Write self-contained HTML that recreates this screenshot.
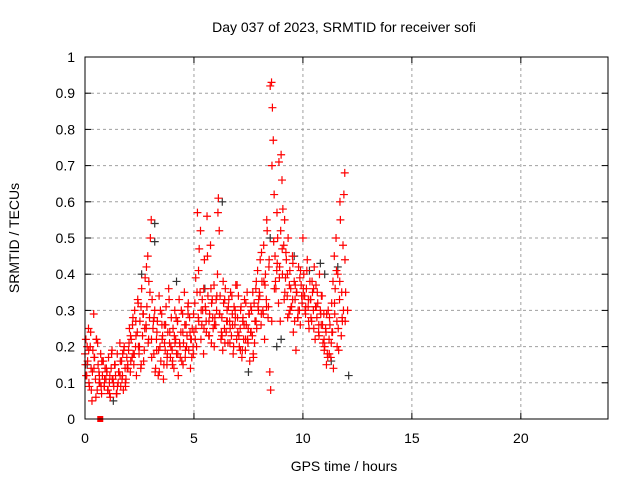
<!DOCTYPE html>
<html><head><meta charset="utf-8"><style>
body{margin:0;background:#fff;}
svg{display:block;font-family:"Liberation Sans",sans-serif;}
</style></head><body>
<svg id="chart" width="640" height="480" viewBox="0 0 640 480">
<rect width="640" height="480" fill="#fff"/>
<text x="344" y="32" font-size="14" text-anchor="middle">Day 037 of 2023, SRMTID for receiver sofi</text>
<text transform="translate(19,238) rotate(-90)" font-size="14" text-anchor="middle">SRMTID / TECUs</text>
<text x="344" y="471" font-size="14" text-anchor="middle">GPS time / hours</text>
<g id="grid"></g>
<g id="ticks"></g>
<g id="black"></g>
<g id="red"></g>
<rect x="85" y="57" width="523" height="362" fill="none" stroke="#000" stroke-width="1"/>
</svg>
<script>
const xTicks=[0,5,10,15,20];
const yTicks=[0,0.1,0.2,0.3,0.4,0.5,0.6,0.7,0.8,0.9,1];
const yTickLabels=["0","0.1","0.2","0.3","0.4","0.5","0.6","0.7","0.8","0.9","1"];
const redStart=0.0, redStep=0.04;
const redValues=[0.18,0.22,0.12,0.16,0.25,0.09,0.20,0.14,0.05,0.19,0.29,0.17,0.11,0.22,0.08,0.15,0.13,0.10,0.18,0.07,0.12,0.16,0.09,0.14,0.11,
0.13,0.08,0.17,0.10,0.06,0.14,0.19,0.11,0.09,0.15,0.12,0.07,0.18,0.10,0.13,0.21,0.09,0.16,0.12,0.08,0.20,0.14,0.11,0.17,0.15,
0.19,0.25,0.13,0.22,0.17,0.28,0.15,0.30,0.20,0.12,0.24,0.32,0.18,0.27,0.14,0.36,0.23,0.29,0.19,0.39,0.26,0.31,0.45,0.22,0.28,
0.50,0.55,0.33,0.25,0.18,0.30,0.14,0.22,0.27,0.12,0.34,0.20,0.16,0.29,0.23,0.11,0.26,0.19,0.31,0.15,0.24,0.36,0.21,0.17,0.28,
0.19,0.25,0.14,0.30,0.22,0.18,0.27,0.12,0.33,0.20,0.24,0.16,0.29,0.21,0.35,0.17,0.26,0.23,0.31,0.19,0.28,0.14,0.22,0.25,0.20,
0.24,0.32,0.39,0.20,0.57,0.28,0.47,0.35,0.22,0.26,0.30,0.18,0.44,0.31,0.27,0.56,0.34,0.23,0.29,0.48,0.21,0.33,0.25,0.37,0.28,
0.26,0.30,0.40,0.61,0.52,0.34,0.22,0.28,0.19,0.32,0.25,0.36,0.24,0.30,0.21,0.33,0.27,0.35,0.23,0.29,0.18,0.31,0.26,0.37,0.22,
0.28,0.34,0.20,0.25,0.31,0.17,0.27,0.22,0.33,0.19,0.26,0.35,0.21,0.29,0.16,0.24,0.30,0.23,0.18,0.32,0.27,0.36,0.25,0.41,0.30,
0.35,0.44,0.26,0.38,0.30,0.48,0.22,0.40,0.33,0.52,0.28,0.42,0.13,0.08,0.93,0.86,0.77,0.62,0.45,0.36,0.41,0.50,0.32,0.39,0.27,
0.73,0.66,0.58,0.48,0.55,0.39,0.44,0.34,0.50,0.29,0.41,0.36,0.31,0.45,0.24,0.38,0.33,0.19,0.35,0.28,0.42,0.30,0.26,0.37,0.32,
0.50,0.40,0.34,0.29,0.36,0.44,0.31,0.25,0.38,0.33,0.27,0.35,0.30,0.42,0.22,0.37,0.28,0.32,0.24,0.40,0.30,0.26,0.34,0.21,0.29,
0.20,0.25,0.15,0.18,0.30,0.22,0.26,0.17,0.32,0.24,0.14,0.45,0.36,0.50,0.27,0.40,0.19,0.33,0.55,0.23,0.28,0.48,0.62,0.68,0.35];
const red2Start=0.02, red2Step=0.08;
const red2Values=[0.15,0.20,0.10,0.24,0.13,0.17,0.06,0.21,0.12,0.09,0.16,0.11,0.14,0.08,0.12,0.18,0.10,0.15,0.07,0.13,0.16,0.11,0.19,0.09,0.14,
0.21,0.16,0.26,0.18,0.23,0.33,0.20,0.15,0.29,0.25,0.42,0.21,0.35,0.17,0.27,0.13,0.24,0.19,0.30,0.22,0.15,0.26,0.18,0.33,0.20,
0.16,0.23,0.28,0.18,0.21,0.30,0.15,0.26,0.20,0.32,0.24,0.17,0.29,0.22,0.35,0.27,0.52,0.33,0.25,0.30,0.45,0.23,0.36,0.28,0.26,
0.33,0.57,0.29,0.24,0.38,0.21,0.27,0.31,0.25,0.34,0.20,0.28,0.37,0.23,0.30,0.19,0.26,0.32,0.22,0.29,0.24,0.35,0.21,0.38,0.31,
0.34,0.46,0.29,0.37,0.55,0.31,0.92,0.70,0.49,0.38,0.43,0.71,0.52,0.40,0.33,0.46,0.28,0.37,0.31,0.43,0.27,0.35,0.30,0.39,0.34,
0.36,0.30,0.41,0.27,0.33,0.38,0.25,0.31,0.35,0.23,0.29,0.26,0.19,0.24,0.17,0.28,0.21,0.38,0.29,0.41,0.25,0.60,0.35,0.30,0.27];
const red3Start=0.05, red3Step=0.12;
const red3Values=[0.12,0.19,0.08,0.14,0.22,0.10,0.16,0.09,0.13,0.07,0.11,0.15,0.09,0.12,0.18,0.10,0.14,
0.23,0.18,0.27,0.20,0.31,0.16,0.25,0.38,0.22,0.28,0.19,0.13,0.26,0.21,0.17,0.24,0.15,
0.21,0.27,0.17,0.24,0.19,0.29,0.22,0.18,0.25,0.41,0.30,0.36,0.24,0.27,0.32,0.20,0.34,
0.29,0.23,0.33,0.27,0.21,0.26,0.30,0.24,0.19,0.28,0.22,0.25,0.31,0.17,0.27,0.33,0.29,
0.38,0.31,0.44,0.27,0.36,0.57,0.42,0.47,0.35,0.40,0.30,0.33,0.37,0.28,0.41,0.34,0.31,
0.33,0.28,0.36,0.31,0.26,0.34,0.22,0.29,0.18,0.24,0.32,0.20,0.38,0.27,0.44,0.30];
const blackTimes=[3.2,3.2,6.3,8.5,10.8,11.0,12.1,11.6,1.3,8.8,9.0,4.2,7.5,0.1,2.6,5.5,9.6,10.3,11.3];
const blackValues=[0.54,0.49,0.60,0.50,0.43,0.40,0.12,0.42,0.05,0.20,0.22,0.38,0.13,0.15,0.40,0.36,0.45,0.41,0.16];
const markerTime=[0.7], markerValue=[0];

const NS="http://www.w3.org/2000/svg";
const X0=85,X1=608,Y0=419,Y1=57;
const xs=t=>X0+t*(X1-X0)/24;
const ys=v=>Y0-v*(Y0-Y1);
function mk(tag,attrs,parent){const e=document.createElementNS(NS,tag);for(const k in attrs)e.setAttribute(k,attrs[k]);parent.appendChild(e);return e;}
const grid=document.getElementById('grid'),ticks=document.getElementById('ticks');
yTicks.forEach((v,i)=>{
  const y=ys(v);
  if(i>0&&i<yTicks.length-1){const g=mk('line',{x1:X0,x2:X1,y1:y,y2:y,stroke:'#a0a0a0','stroke-dasharray':'3,3'},grid);
  
  }
  mk('line',{x1:X0,x2:X0+6,y1:y,y2:y,stroke:'#000'},ticks);
  mk('line',{x1:X1,x2:X1-6,y1:y,y2:y,stroke:'#000'},ticks);
  const t=mk('text',{x:X0-10,y:y+5,'font-size':14,'text-anchor':'end'},ticks);t.textContent=yTickLabels[i];
  
  
});
xTicks.forEach(v=>{
  const x=xs(v);
  if(v>0){const g=mk('line',{x1:x,x2:x,y1:Y0,y2:Y1,stroke:'#a0a0a0','stroke-dasharray':'3,3'},grid);
  
  }
  mk('line',{x1:x,x2:x,y1:Y0,y2:Y0-6,stroke:'#000'},ticks);
  mk('line',{x1:x,x2:x,y1:Y1,y2:Y1+6,stroke:'#000'},ticks);
  const t=mk('text',{x:x,y:443,'font-size':14,'text-anchor':'middle'},ticks);t.textContent=String(v);
  
  
});
function plus(g,t,v,color){
  const x=xs(t),y=ys(v);
  const p=mk('path',{d:`M${x-4} ${y}H${x+4}M${x} ${y-4}V${y+4}`,stroke:color,'stroke-width':1.2,fill:'none'},g);
  
  
}
const bg=document.getElementById('black'),rg=document.getElementById('red');
blackTimes.forEach((t,i)=>plus(bg,t,blackValues[i],'#333'));
redValues.forEach((v,i)=>plus(rg,redStart+i*redStep,v,'#ff0000'));
red2Values.forEach((v,i)=>plus(rg,red2Start+i*red2Step,v,'#ff0000'));
red3Values.forEach((v,i)=>plus(rg,red3Start+i*red3Step,v,'#ff0000'));
markerTime.forEach((t,i)=>{const r=mk('rect',{x:xs(t)-3,y:ys(markerValue[i])-3,width:6,height:6,fill:'#ff0000'},rg);

});
</script>
</body></html>
